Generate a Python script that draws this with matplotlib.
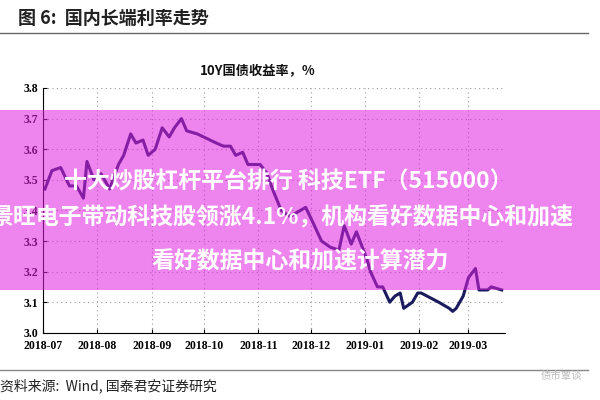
import matplotlib
matplotlib.use("Agg")
import matplotlib.pyplot as plt
from matplotlib import font_manager as fm
import pandas as pd
from matplotlib.patches import Rectangle

allcjk = [f.fname for f in fm.fontManager.ttflist if "CJK" in f.name]
def pick(word):
    c = [f for f in allcjk if word in f]
    c = sorted(c, key=lambda s: ("SC" not in s and "Sans" not in s, s))
    return fm.FontProperties(fname=c[0]) if c else (fm.FontProperties(fname=allcjk[0]) if allcjk else fm.FontProperties(family="Noto Sans CJK SC"))
fp = pick("Regular")
fpb = pick("Bold")

dates = ["2018-07-02","2018-07-06","2018-07-11","2018-07-16","2018-07-20","2018-07-24","2018-07-26","2018-07-30",
         "2018-08-03","2018-08-08","2018-08-13","2018-08-16","2018-08-20","2018-08-23","2018-08-27","2018-08-30",
         "2018-09-03","2018-09-07","2018-09-11","2018-09-14","2018-09-18","2018-09-21","2018-09-27",
         "2018-10-08","2018-10-12","2018-10-16","2018-10-19","2018-10-23","2018-10-26","2018-10-30",
         "2018-11-02","2018-11-06","2018-11-09","2018-11-14","2018-11-19","2018-11-22","2018-11-28",
         "2018-12-03","2018-12-07","2018-12-12","2018-12-17","2018-12-20","2018-12-24","2018-12-27",
         "2019-01-02","2019-01-04","2019-01-08","2019-01-11","2019-01-15","2019-01-18","2019-01-21","2019-01-23",
         "2019-01-28","2019-01-31","2019-02-02","2019-02-12","2019-02-18","2019-02-20","2019-02-22",
         "2019-02-26","2019-02-28","2019-03-01","2019-03-05","2019-03-07","2019-03-12","2019-03-14","2019-03-20"]
yields = [3.47,3.53,3.54,3.48,3.48,3.44,3.56,3.50,
          3.52,3.47,3.55,3.58,3.65,3.62,3.63,3.58,
          3.60,3.67,3.64,3.67,3.70,3.66,3.65,
          3.62,3.61,3.61,3.58,3.59,3.55,3.55,
          3.55,3.52,3.47,3.40,3.38,3.39,3.41,
          3.35,3.30,3.28,3.27,3.35,3.29,3.33,
          3.24,3.20,3.15,3.15,3.10,3.12,3.13,3.08,
          3.10,3.13,3.13,3.10,3.08,3.07,3.08,
          3.12,3.16,3.18,3.21,3.14,3.14,3.15,3.14]
yticks = [3.0,3.1,3.2,3.3,3.4,3.5,3.6,3.7,3.8]
xtick_labels = ["2018-07","2018-08","2018-09","2018-10","2018-11","2018-12","2019-01","2019-02","2019-03"]

x = pd.to_datetime(dates)
fig = plt.figure(figsize=(6, 4), dpi=100)
ax = fig.add_axes([0.072, 0.168, 0.77, 0.612])
ax.plot(x, yields, color="#1a1a5e", lw=2.2)
ax.set_ylim(3.0, 3.8)
ax.set_yticks(yticks)
ax.set_yticklabels([f"{v:.1f}" for v in yticks], fontfamily="Liberation Serif", fontweight="bold", fontsize=8.5)
xt = pd.to_datetime([s + "-01" for s in xtick_labels])
ax.set_xticks(xt)
ax.set_xticklabels(xtick_labels, fontfamily="Liberation Serif", fontweight="bold", fontsize=8.5)
ax.set_xlim(pd.Timestamp("2018-07-01"), pd.Timestamp("2019-03-22"))
ax.grid(True, ls=(0, (1, 3)), color="#999999", lw=0.8)
for s in ["top", "right"]:
    ax.spines[s].set_visible(False)
ax.tick_params(direction="in", length=3)
ax.tick_params(axis="x", pad=5)

def T(xx, yy, s, bold=False, **kw):
    p = (fpb if bold else fp).copy()
    p.set_size(kw.pop("size"))
    fig.text(xx, yy, s, fontproperties=p, **kw)

T(0.03, 0.955, "图 6:  国内长端利率走势", bold=True, size=13, color="#222222", va="center")
fig.add_artist(plt.Line2D([0, 0.98], [0.918, 0.918], color="#666666", lw=1))
T(0.43, 0.825, "10Y国债收益率，%", bold=True, size=9.5, ha="center", va="center", color="#111111")
fig.add_artist(plt.Line2D([0, 0.98], [0.075, 0.075], color="#888888", lw=1))
T(0.0, 0.035, "资料来源:  Wind, 国泰君安证券研究", size=10, va="center", color="#222222")
T(0.97, 0.06, "债市覃谈", size=7.5, color="#bbbbbb", ha="right", va="center")

fig.add_artist(Rectangle((0, 0.275), 1, 0.45, transform=fig.transFigure, color="#e020e0", alpha=0.55, lw=0, zorder=5))
for xx, yy, s in [(0.48, 0.545, "十大炒股杠杆平台排行 科技ETF（515000）"),
                  (0.47, 0.455, "景旺电子带动科技股领涨4.1%，机构看好数据中心和加速"),
                  (0.5, 0.345, "看好数据中心和加速计算潜力")]:
    T(xx, yy, s, bold=True, size=16.5, color="white", ha="center", va="center", zorder=6)
fig.savefig("out.png", dpi=100, facecolor="white")
